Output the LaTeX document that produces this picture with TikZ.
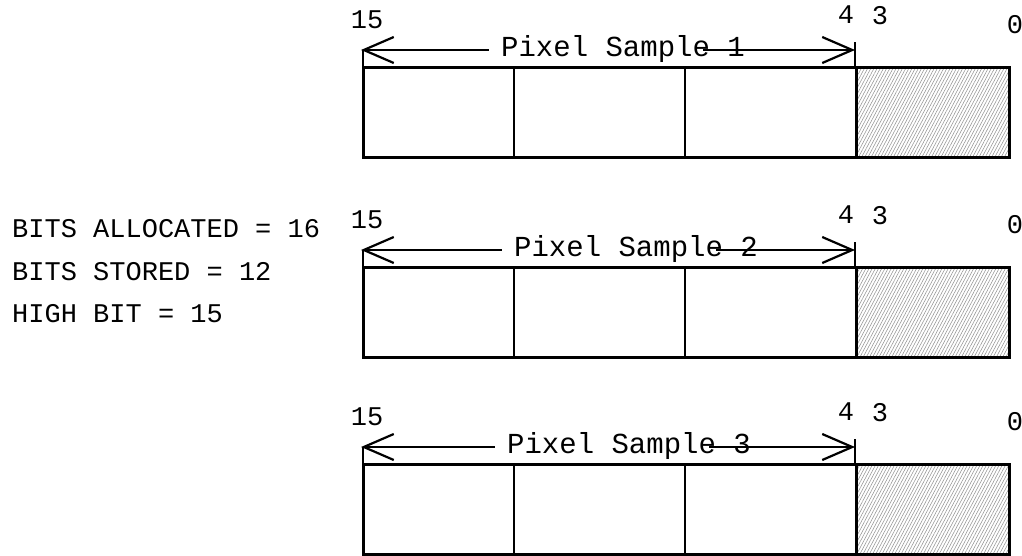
\documentclass[tikz,border=0pt]{standalone}
\usepackage{fontspec}
\setmonofont{Liberation Mono}
\usetikzlibrary{arrows.meta,patterns.meta}

\tikzset{
  txt/.style={font=\ttfamily\fontsize{27}{30}\selectfont, inner sep=0pt},
  bigtxt/.style={font=\ttfamily\fontsize{29}{32}\selectfont, inner sep=0pt, anchor=base},
  boxline/.style={line width=3pt},
  divline/.style={line width=2.4pt},
  dimline/.style={line width=2.2pt},
  dimtip/.style={-{Straight Barb[length=30pt,width=26pt]}},
  hatch/.style={pattern={Lines[angle=62,distance=2.8pt,line width=0.55pt]}, pattern color=gray!85}
}

\begin{document}
\begin{tikzpicture}[x=1pt,y=-1pt]
            \useasboundingbox (0,0) rectangle (1022,555);

            % header values
            \begin{scope}[every node/.style={txt,anchor=west}]
                \node (alloc) at (12,229) {BITS ALLOCATED = 16};
                \node (stored) at (12,272) {BITS STORED = 12};
                \node (high) at (12,314) {HIGH BIT = 15};
            \end{scope}

            % one word per pixel sample
            \foreach \n/\dy/\dx in {1/0/0, 2/200/13, 3/397/6} {
            \begin{scope}[yshift=-\dy pt]
                \fill[hatch] (856,67) rectangle (1009,157);
                \draw[boxline] (363,67) rectangle (1009,157);
                \draw[divline] (514,67) -- (514,157);
                \draw[divline] (685,67) -- (685,157);
                \draw[boxline] (856,67) -- (856,157);

                \node[txt] (hi\n) at (367,20) {15};
                \node[txt] (four\n) at (846,15) {4};
                \node[txt] (three\n) at (880,16) {3};
                \node[txt] (zero\n) at (1015,25) {0};

                \node[bigtxt] (smp\n) at (623+\dx,56) {Pixel Sample \n};
                \coordinate (left\n) at (361,50);
                \coordinate (right\n) at (855,50);
                \coordinate (ltick\n) at (363,67);
                \coordinate (rtop\n) at (855,42);
                \coordinate (rbot\n) at (855,67);

                \path[dimline,dimtip] ([xshift=-12pt]smp\n.west |- left\n) edge (left\n);
                \path[dimline,dimtip] ([xshift=-42pt]smp\n.east |- right\n) edge (right\n);
                \path[dimline] (363,50) edge (ltick\n);
                \path[dimline] (rtop\n) edge (rbot\n);
            \end{scope}
            }
\end{tikzpicture}
\end{document}
